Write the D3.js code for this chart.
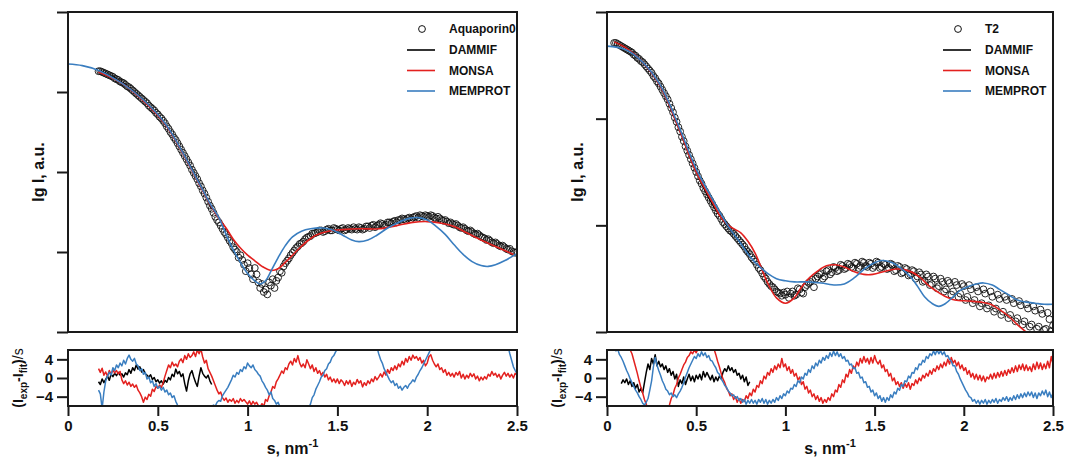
<!DOCTYPE html>
<html>
<head>
<meta charset="utf-8">
<script src="https://cdn.jsdelivr.net/npm/d3@7"></script>
<style>
  body { margin: 0; background: #fff; }
  text { font-family: "Liberation Sans", Arial, Helvetica, sans-serif; font-weight: bold; fill: #111; }
</style>
</head>
<body>
<svg id="chart" width="1070" height="460"></svg>
<script>
// ---- data: s (nm^-1) and lg I (arbitrary units, 1 unit = one major tick) ----
var aqpExp = [[0.17,3.26],[0.18,3.26],[0.19,3.25],[0.20,3.24],[0.21,3.23],[0.22,3.22],[0.23,3.21],[0.24,3.20],[0.25,3.19],[0.26,3.17],
  [0.27,3.16],[0.28,3.15],[0.29,3.13],[0.30,3.12],[0.31,3.11],[0.32,3.09],[0.33,3.07],[0.34,3.06],[0.35,3.04],[0.36,3.02],[0.37,3.00],
  [0.38,2.98],[0.39,2.96],[0.40,2.94],[0.41,2.92],[0.42,2.90],[0.43,2.88],[0.44,2.86],[0.45,2.83],[0.46,2.81],[0.47,2.79],[0.48,2.77],
  [0.49,2.74],[0.50,2.72],[0.51,2.69],[0.52,2.67],[0.53,2.64],[0.54,2.61],[0.55,2.57],[0.56,2.54],[0.57,2.50],[0.58,2.47],[0.59,2.43],
  [0.60,2.40],[0.61,2.36],[0.62,2.32],[0.63,2.28],[0.64,2.24],[0.65,2.20],[0.66,2.16],[0.67,2.12],[0.68,2.08],[0.69,2.03],[0.70,1.99],
  [0.71,1.95],[0.72,1.91],[0.73,1.86],[0.74,1.82],[0.75,1.77],[0.76,1.73],[0.77,1.68],[0.78,1.63],[0.79,1.58],[0.80,1.54],[0.81,1.49],
  [0.82,1.44],[0.83,1.40],[0.84,1.37],[0.85,1.33],[0.86,1.29],[0.87,1.25],[0.88,1.22],[0.89,1.18],[0.90,1.14],[0.91,1.11],[0.92,1.06],
  [0.93,1.03],[0.94,1.00],[0.95,0.93],[0.96,0.96],[0.97,0.90],[0.98,0.84],[0.99,0.76],[1.00,0.86],[1.01,0.80],[1.02,0.72],[1.03,0.66],
  [1.04,0.80],[1.05,0.72],[1.06,0.62],[1.07,0.55],[1.08,0.60],[1.09,0.50],[1.10,0.53],[1.11,0.47],[1.12,0.62],[1.13,0.58],[1.14,0.66],
  [1.15,0.55],[1.16,0.64],[1.17,0.68],[1.18,0.76],[1.19,0.74],[1.20,0.82],[1.21,0.86],[1.22,0.89],[1.23,0.92],[1.24,0.96],[1.25,0.99],
  [1.26,1.02],[1.27,1.05],[1.28,1.07],[1.29,1.10],[1.30,1.11],[1.31,1.13],[1.32,1.16],[1.33,1.18],[1.34,1.19],[1.35,1.20],[1.36,1.23],
  [1.37,1.23],[1.38,1.24],[1.39,1.25],[1.40,1.27],[1.41,1.27],[1.42,1.25],[1.43,1.26],[1.44,1.28],[1.45,1.29],[1.46,1.27],[1.47,1.27],
  [1.48,1.30],[1.49,1.29],[1.50,1.28],[1.51,1.27],[1.52,1.29],[1.53,1.30],[1.54,1.27],[1.55,1.28],[1.56,1.30],[1.57,1.29],[1.58,1.28],
  [1.59,1.31],[1.60,1.29],[1.61,1.28],[1.62,1.31],[1.63,1.30],[1.64,1.28],[1.65,1.29],[1.66,1.32],[1.67,1.32],[1.68,1.30],[1.69,1.33],
  [1.70,1.34],[1.71,1.31],[1.72,1.33],[1.73,1.34],[1.74,1.36],[1.75,1.35],[1.76,1.33],[1.77,1.34],[1.78,1.37],[1.79,1.37],[1.80,1.36],
  [1.81,1.38],[1.82,1.39],[1.83,1.37],[1.84,1.40],[1.85,1.40],[1.86,1.42],[1.87,1.41],[1.88,1.40],[1.89,1.42],[1.90,1.43],[1.91,1.41],
  [1.92,1.43],[1.93,1.44],[1.94,1.45],[1.95,1.43],[1.96,1.46],[1.97,1.45],[1.98,1.44],[1.99,1.46],[2.00,1.45],[2.01,1.44],[2.02,1.46],
  [2.03,1.45],[2.04,1.43],[2.05,1.42],[2.06,1.44],[2.07,1.42],[2.08,1.40],[2.09,1.39],[2.10,1.40],[2.11,1.38],[2.12,1.36],[2.13,1.37],
  [2.14,1.35],[2.15,1.34],[2.16,1.35],[2.17,1.33],[2.18,1.31],[2.19,1.30],[2.20,1.31],[2.21,1.29],[2.22,1.27],[2.23,1.26],[2.24,1.27],
  [2.25,1.25],[2.26,1.23],[2.27,1.22],[2.28,1.23],[2.29,1.21],[2.30,1.19],[2.31,1.18],[2.32,1.17],[2.33,1.15],[2.34,1.16],[2.35,1.14],
  [2.36,1.12],[2.37,1.11],[2.38,1.12],[2.39,1.10],[2.40,1.08],[2.41,1.07],[2.42,1.08],[2.43,1.06],[2.44,1.04],[2.45,1.03],[2.46,1.04],
  [2.47,1.01],[2.48,1.00],[2.49,0.99],[2.50,1.00]];

var aqpDammif = [[0.17,3.27],[0.25,3.19],[0.35,3.04],[0.45,2.83],[0.55,2.57],[0.65,2.20],[0.72,1.91],[0.80,1.54]];

var aqpMonsa = [[0.17,3.25],[0.30,3.11],[0.42,2.89],[0.54,2.60],[0.63,2.27],[0.73,1.85],[0.80,1.56],[0.84,1.42],[0.88,1.30],
  [0.92,1.16],[0.96,1.05],[1.00,0.96],[1.04,0.89],[1.08,0.82],[1.13,0.77],[1.17,0.79],[1.21,0.87],[1.25,0.96],[1.29,1.05],
  [1.34,1.15],[1.38,1.21],[1.45,1.26],[1.53,1.28],[1.63,1.29],[1.73,1.29],[1.83,1.33],[1.92,1.37],[2.00,1.38],[2.08,1.36],
  [2.15,1.32],[2.22,1.24],[2.30,1.15],[2.40,1.05],[2.48,0.97]];

var aqpMemprot = [[0.00,3.35],[0.08,3.33],[0.17,3.27],[0.30,3.11],[0.42,2.90],[0.54,2.61],[0.63,2.28],[0.73,1.86],[0.80,1.57],
  [0.84,1.43],[0.88,1.22],[0.92,1.03],[0.96,0.87],[1.00,0.73],[1.04,0.64],[1.07,0.60],[1.10,0.64],[1.13,0.76],[1.17,0.93],
  [1.21,1.08],[1.25,1.19],[1.30,1.26],[1.35,1.29],[1.42,1.30],[1.48,1.27],[1.53,1.21],[1.58,1.15],[1.62,1.13],[1.67,1.15],
  [1.72,1.21],[1.78,1.30],[1.84,1.37],[1.90,1.42],[1.95,1.43],[2.00,1.40],[2.05,1.32],[2.10,1.22],[2.15,1.09],[2.20,0.97],
  [2.25,0.88],[2.30,0.83],[2.34,0.82],[2.38,0.84],[2.43,0.89],[2.50,0.98]];

var t2Exp = [[0.04,2.71],[0.05,2.71],[0.06,2.70],[0.07,2.69],[0.08,2.68],[0.09,2.67],[0.10,2.66],[0.11,2.65],[0.12,2.64],[0.13,2.63],
  [0.14,2.62],[0.15,2.60],[0.16,2.59],[0.17,2.57],[0.18,2.56],[0.19,2.54],[0.20,2.53],[0.21,2.51],[0.22,2.49],[0.23,2.47],[0.24,2.45],
  [0.25,2.43],[0.26,2.40],[0.27,2.38],[0.28,2.35],[0.29,2.33],[0.30,2.30],[0.31,2.27],[0.32,2.24],[0.33,2.21],[0.34,2.18],[0.35,2.14],
  [0.36,2.10],[0.37,2.06],[0.38,2.01],[0.39,1.97],[0.40,1.92],[0.41,1.88],[0.42,1.83],[0.43,1.79],[0.44,1.74],[0.45,1.70],[0.46,1.66],
  [0.47,1.62],[0.48,1.58],[0.49,1.54],[0.50,1.50],[0.51,1.46],[0.52,1.42],[0.53,1.39],[0.54,1.35],[0.55,1.32],[0.56,1.29],[0.57,1.26],
  [0.58,1.23],[0.59,1.20],[0.60,1.17],[0.61,1.14],[0.62,1.11],[0.63,1.09],[0.64,1.06],[0.65,1.03],[0.66,1.01],[0.67,0.99],[0.68,0.97],
  [0.69,0.95],[0.70,0.94],[0.71,0.92],[0.72,0.90],[0.73,0.88],[0.74,0.86],[0.75,0.84],[0.76,0.82],[0.77,0.80],[0.78,0.77],[0.79,0.75],
  [0.80,0.73],[0.81,0.70],[0.82,0.68],[0.83,0.66],[0.84,0.63],[0.85,0.60],[0.86,0.58],[0.87,0.55],[0.88,0.52],[0.89,0.50],[0.90,0.47],
  [0.91,0.45],[0.92,0.43],[0.93,0.42],[0.94,0.40],[0.95,0.38],[0.96,0.37],[0.97,0.36],[0.98,0.34],[0.99,0.37],[1.00,0.35],[1.01,0.38],
  [1.02,0.32],[1.03,0.36],[1.04,0.38],[1.05,0.34],[1.06,0.35],[1.07,0.41],[1.08,0.40],[1.09,0.37],[1.10,0.36],[1.11,0.42],[1.12,0.44],
  [1.13,0.46],[1.14,0.47],[1.15,0.49],[1.16,0.42],[1.17,0.50],[1.18,0.52],[1.19,0.54],[1.20,0.55],[1.21,0.50],[1.22,0.52],[1.23,0.57],
  [1.24,0.58],[1.25,0.54],[1.26,0.56],[1.27,0.61],[1.28,0.60],[1.29,0.57],[1.30,0.58],[1.31,0.63],[1.32,0.62],[1.33,0.59],[1.34,0.60],
  [1.35,0.64],[1.36,0.63],[1.37,0.61],[1.38,0.60],[1.39,0.65],[1.40,0.64],[1.41,0.60],[1.42,0.62],[1.43,0.66],[1.44,0.65],[1.45,0.62],
  [1.46,0.61],[1.47,0.65],[1.48,0.64],[1.49,0.60],[1.50,0.62],[1.51,0.66],[1.52,0.65],[1.53,0.60],[1.54,0.61],[1.55,0.64],[1.56,0.63],
  [1.57,0.59],[1.58,0.60],[1.59,0.64],[1.60,0.63],[1.61,0.57],[1.62,0.58],[1.63,0.62],[1.64,0.61],[1.65,0.55],[1.66,0.56],[1.67,0.60],
  [1.68,0.59],[1.69,0.53],[1.70,0.54],[1.71,0.58],[1.72,0.57],[1.73,0.50],[1.74,0.52],[1.75,0.56],[1.76,0.54],[1.77,0.47],[1.78,0.48],
  [1.79,0.54],[1.80,0.52],[1.81,0.44],[1.82,0.45],[1.83,0.52],[1.84,0.50],[1.85,0.41],[1.86,0.43],[1.87,0.50],[1.88,0.47],[1.89,0.38],
  [1.90,0.40],[1.91,0.48],[1.92,0.46],[1.93,0.35],[1.94,0.38],[1.95,0.47],[1.96,0.44],[1.97,0.33],[1.98,0.36],[1.99,0.45],[2.00,0.43],
  [2.01,0.30],[2.02,0.33],[2.03,0.44],[2.04,0.40],[2.05,0.27],[2.06,0.30],[2.07,0.42],[2.08,0.38],[2.09,0.24],[2.10,0.27],[2.11,0.40],
  [2.12,0.36],[2.13,0.22],[2.14,0.25],[2.15,0.38],[2.16,0.33],[2.17,0.19],[2.18,0.22],[2.19,0.35],[2.20,0.31],[2.21,0.16],[2.22,0.19],
  [2.23,0.33],[2.24,0.30],[2.25,0.13],[2.26,0.16],[2.27,0.31],[2.28,0.27],[2.29,0.10],[2.30,0.13],[2.31,0.29],[2.32,0.25],[2.33,0.07],
  [2.34,0.10],[2.35,0.26],[2.36,0.22],[2.37,0.05],[2.38,0.07],[2.39,0.24],[2.40,0.20],[2.41,0.03],[2.42,0.05],[2.43,0.21],[2.44,0.17],
  [2.45,0.02],[2.46,0.03],[2.47,0.18],[2.48,0.12],[2.49,0.01],[2.50,0.06]];

var t2Dammif = [[0.04,2.72],[0.10,2.67],[0.20,2.53],[0.30,2.30],[0.40,1.92],[0.50,1.50],[0.60,1.17],[0.70,0.94],[0.80,0.73]];

var t2Monsa = [[0.04,2.72],[0.10,2.67],[0.20,2.53],[0.30,2.30],[0.40,1.92],[0.50,1.50],[0.60,1.19],[0.64,1.07],[0.68,1.00],
  [0.72,0.96],[0.75,0.93],[0.79,0.85],[0.83,0.74],[0.87,0.58],[0.90,0.46],[0.95,0.32],[1.00,0.27],[1.05,0.32],[1.09,0.42],
  [1.13,0.50],[1.18,0.57],[1.23,0.62],[1.28,0.63],[1.33,0.61],[1.38,0.57],[1.44,0.54],[1.49,0.54],[1.56,0.57],[1.62,0.59],
  [1.68,0.58],[1.75,0.52],[1.80,0.44],[1.85,0.38],[1.90,0.33],[1.95,0.30],[2.03,0.29],[2.10,0.28],[2.15,0.26],[2.20,0.21],
  [2.25,0.15],[2.30,0.07],[2.35,0.00],[2.38,-0.04]];

var t2Memprot = [[0.00,2.68],[0.10,2.65],[0.20,2.53],[0.30,2.31],[0.40,1.94],[0.50,1.53],[0.60,1.22],[0.68,0.99],[0.75,0.83],
  [0.80,0.71],[0.85,0.62],[0.90,0.55],[0.95,0.50],[1.00,0.48],[1.05,0.47],[1.12,0.47],[1.20,0.46],[1.28,0.44],[1.33,0.45],
  [1.38,0.50],[1.45,0.60],[1.50,0.65],[1.54,0.67],[1.58,0.66],[1.62,0.63],[1.66,0.58],[1.70,0.52],[1.74,0.43],[1.78,0.33],
  [1.82,0.27],[1.86,0.24],[1.90,0.27],[1.94,0.33],[1.98,0.39],[2.03,0.43],[2.07,0.45],[2.11,0.46],[2.16,0.44],[2.20,0.40],
  [2.25,0.35],[2.30,0.30],[2.35,0.28],[2.40,0.27],[2.45,0.26],[2.50,0.26]];

// residuals (I_exp - I_fit)/s
var aqpResDammif = [[0.17,-0.8],[0.18,-1.4],[0.19,-0.2],[0.20,-1.0],[0.21,-0.3],[0.22,0.4],[0.23,-0.5],[0.24,0.8],[0.25,0.3],[0.26,1.0],
  [0.27,0.5],[0.28,1.2],[0.29,0.6],[0.30,0.9],[0.31,0.2],[0.32,1.1],[0.33,0.7],[0.34,1.8],[0.35,1.0],[0.36,2.2],[0.37,1.6],[0.38,2.8],
  [0.39,1.9],[0.40,2.4],[0.41,1.3],[0.42,1.8],[0.43,0.9],[0.44,0.6],[0.45,0.2],[0.46,0.7],[0.47,-0.3],[0.48,0.1],[0.49,-0.8],[0.50,-0.4],
  [0.51,-1.1],[0.52,-0.6],[0.53,-1.3],[0.54,-0.5],[0.55,-0.9],[0.56,0.1],[0.57,-0.4],[0.58,0.8],[0.59,0.3],[0.60,1.9],[0.61,0.9],[0.62,1.4],
  [0.63,0.3],[0.64,0.9],[0.65,-1.2],[0.66,-2.8],[0.67,-0.6],[0.68,0.9],[0.69,1.6],[0.70,0.2],[0.71,-0.9],[0.72,-1.8],[0.73,0.4],[0.74,2.2],
  [0.75,1.0],[0.76,0.4],[0.77,0.0],[0.78,0.6],[0.79,-0.6],[0.80,-1.4]];

var aqpResMonsa = [[0.17,2.0],[0.18,1.2],[0.19,2.1],[0.20,0.6],[0.21,1.3],[0.22,0.4],[0.23,1.6],[0.24,0.8],[0.25,1.7],[0.26,1.1],[0.27,1.6],
  [0.28,0.9],[0.29,1.4],[0.30,-0.4],[0.31,-1.2],[0.32,-0.6],[0.33,-1.5],[0.34,-0.9],[0.35,-1.8],[0.36,-1.3],[0.37,-2.0],[0.38,-1.5],[0.39,-2.6],
  [0.40,-3.2],[0.41,-4.0],[0.42,-5.2],[0.43,-4.1],[0.44,-4.6],[0.45,-3.5],[0.46,-3.9],[0.47,-2.4],[0.48,-2.9],[0.49,-1.8],[0.50,-2.2],
  [0.51,-1.5],[0.52,-2.0],[0.53,-1.0],[0.54,0.4],[0.55,1.6],[0.56,2.8],[0.57,2.2],[0.58,3.4],[0.59,2.6],[0.60,3.0],[0.61,2.4],[0.62,3.6],
  [0.63,4.1],[0.64,3.3],[0.65,4.8],[0.66,4.0],[0.67,5.2],[0.68,4.4],[0.69,4.8],[0.70,5.6],[0.71,4.6],[0.72,6.0],[0.73,5.2],[0.74,6.2],
  [0.75,4.5],[0.76,3.2],[0.77,3.8],[0.78,2.0],[0.79,1.2],[0.80,0.4],[0.81,-0.6],[0.82,-1.6],[0.83,-2.6],[0.84,-3.4],[0.85,-3.0],[0.86,-4.2],
  [0.87,-4.8],[0.88,-4.3],[0.89,-5.2],[0.90,-4.6],[0.91,-5.0],[0.92,-4.4],[0.93,-5.4],[0.94,-4.8],[0.95,-5.3],[0.96,-4.4],[0.97,-5.0],
  [0.98,-4.6],[1.00,-5.6],[1.01,-4.9],[1.02,-5.8],[1.03,-5.0],[1.04,-5.6],[1.05,-5.2],[1.06,-5.9],[1.07,-6.2],[1.08,-5.5],[1.09,-6.1],
  [1.10,-4.6],[1.11,-5.0],[1.12,-3.8],[1.13,-3.0],[1.14,-1.8],[1.15,-2.2],[1.16,-0.8],[1.17,-0.2],[1.18,0.6],[1.19,1.5],[1.20,1.0],
  [1.21,2.2],[1.22,1.8],[1.23,3.0],[1.24,3.6],[1.25,2.8],[1.26,4.2],[1.27,3.4],[1.28,4.8],[1.29,3.2],[1.30,2.4],[1.31,3.0],[1.32,2.2],
  [1.33,3.9],[1.34,3.0],[1.35,2.0],[1.36,2.8],[1.37,1.4],[1.38,2.2],[1.39,1.0],[1.40,1.6],[1.41,0.6],[1.42,1.2],[1.43,0.2],[1.44,0.8],
  [1.45,-0.4],[1.46,0.2],[1.47,-0.8],[1.48,-0.2],[1.49,-1.0],[1.50,-0.2],[1.51,-1.2],[1.52,-0.4],[1.53,-0.8],[1.54,-1.6],[1.55,-0.6],
  [1.56,-1.3],[1.57,-0.5],[1.58,-1.8],[1.59,-0.9],[1.60,-1.4],[1.61,-0.3],[1.62,-1.1],[1.63,-0.6],[1.64,-1.9],[1.65,-1.0],[1.66,-1.6],
  [1.67,-0.6],[1.68,-1.2],[1.69,-0.2],[1.70,-0.8],[1.71,0.3],[1.72,-0.4],[1.73,0.2],[1.74,0.9],[1.75,0.2],[1.76,1.3],[1.77,0.6],[1.78,1.8],
  [1.79,1.0],[1.80,2.2],[1.81,1.6],[1.82,2.6],[1.83,1.8],[1.84,3.0],[1.85,2.4],[1.86,3.6],[1.87,2.8],[1.88,4.2],[1.89,3.4],[1.90,4.6],
  [1.91,3.8],[1.92,4.9],[1.93,4.2],[1.94,4.6],[1.95,3.8],[1.96,4.4],[1.97,3.2],[1.98,3.8],[1.99,2.6],[2.00,3.2],[2.01,4.6],[2.02,5.0],
  [2.03,3.8],[2.04,3.0],[2.05,2.4],[2.06,3.0],[2.07,1.8],[2.08,2.2],[2.09,1.2],[2.10,1.8],[2.11,0.6],[2.12,1.2],[2.13,0.4],[2.14,1.0],
  [2.15,0.2],[2.16,1.2],[2.17,0.6],[2.18,1.4],[2.19,0.0],[2.20,0.8],[2.21,-0.2],[2.22,0.6],[2.23,0.0],[2.24,1.0],[2.25,0.3],[2.26,0.9],
  [2.27,-0.2],[2.28,0.4],[2.29,-0.6],[2.30,0.2],[2.31,-0.4],[2.32,0.3],[2.33,-0.2],[2.34,0.8],[2.35,0.4],[2.36,1.4],[2.37,0.6],[2.38,1.0],
  [2.39,0.2],[2.40,0.8],[2.41,-0.2],[2.42,0.6],[2.43,1.2],[2.44,0.4],[2.45,1.0],[2.46,0.2],[2.47,0.8],[2.48,0.0],[2.49,1.0],[2.50,0.6]];

var aqpResMemprot = [[0.17,-2.6],[0.18,-3.4],[0.19,-6.5],[0.20,-3.0],[0.21,-0.6],[0.22,0.4],[0.23,1.2],[0.24,0.6],[0.25,2.2],[0.26,1.6],
  [0.27,2.8],[0.28,2.2],[0.29,3.2],[0.30,2.6],[0.31,3.8],[0.32,3.0],[0.33,4.2],[0.34,4.9],[0.35,4.0],[0.36,3.6],[0.37,4.2],[0.38,3.0],
  [0.39,2.6],[0.40,1.6],[0.41,2.0],[0.42,0.8],[0.43,1.2],[0.44,-0.2],[0.45,0.2],[0.46,-1.0],[0.47,-0.6],[0.48,-1.8],[0.49,-1.2],[0.50,-2.2],
  [0.51,-1.8],[0.52,-2.6],[0.53,-2.0],[0.54,-3.0],[0.55,-2.6],[0.56,-3.6],[0.57,-3.2],[0.58,-4.2],[0.59,-3.8],[0.60,-5.0],[0.61,-5.8],
  [0.62,-6.5],[0.66,-7.5],[0.70,-8.0],[0.75,-7.5],[0.79,-6.8],[0.80,-6.2],[0.81,-5.8],[0.82,-6.0],[0.83,-5.2],[0.84,-4.8],[0.85,-5.0],
  [0.86,-3.8],[0.87,-3.2],[0.88,-2.6],[0.89,-2.0],[0.90,-1.2],[0.91,-0.4],[0.92,0.6],[0.93,0.2],[0.94,1.2],[0.95,0.8],[0.96,1.8],[0.97,1.4],
  [0.98,2.4],[0.99,2.0],[1.00,3.2],[1.01,2.6],[1.02,2.2],[1.03,2.8],[1.04,1.8],[1.05,1.4],[1.06,0.8],[1.07,0.4],[1.08,-0.6],[1.09,-1.2],
  [1.10,-2.0],[1.11,-2.6],[1.12,-3.6],[1.13,-3.0],[1.14,-4.4],[1.15,-4.8],[1.16,-5.6],[1.17,-5.2],[1.18,-6.2],[1.20,-7.5],[1.28,-8.0],
  [1.32,-7.5],[1.34,-6.4],[1.35,-5.6],[1.36,-4.2],[1.37,-3.6],[1.38,-2.4],[1.39,-1.6],[1.40,-0.8],[1.41,0.2],[1.42,0.6],[1.43,1.6],
  [1.44,2.0],[1.45,3.0],[1.46,3.4],[1.47,4.4],[1.48,4.8],[1.49,5.6],[1.50,6.2],[1.52,7.5],[1.60,8.5],[1.70,8.0],[1.72,6.6],[1.73,5.2],
  [1.74,4.0],[1.75,3.2],[1.76,2.0],[1.77,1.2],[1.78,0.4],[1.79,-0.4],[1.80,-1.0],[1.81,-0.6],[1.82,-1.6],[1.83,-1.2],[1.84,-2.2],
  [1.85,-1.8],[1.86,-2.6],[1.87,-2.0],[1.88,-1.6],[1.89,-2.2],[1.90,-1.4],[1.91,-1.0],[1.92,-0.4],[1.93,-0.8],[1.94,0.2],[1.95,0.8],
  [1.96,1.6],[1.97,2.2],[1.98,3.0],[1.99,3.8],[2.00,4.6],[2.01,5.4],[2.02,6.2],[2.04,7.5],[2.20,8.5],[2.40,8.0],[2.45,6.8],[2.46,5.2],
  [2.47,3.8],[2.48,2.4],[2.49,1.6],[2.50,1.0]];

var t2ResDammif = [[0.08,-1.2],[0.09,-0.4],[0.10,-1.0],[0.11,-0.2],[0.12,-1.4],[0.13,-0.6],[0.14,-1.8],[0.15,-1.0],[0.16,-2.2],[0.17,-1.4],
  [0.18,-3.0],[0.19,-2.2],[0.20,-3.2],[0.21,-1.0],[0.22,1.2],[0.23,3.0],[0.24,1.8],[0.25,4.2],[0.26,3.0],[0.27,5.0],[0.28,2.6],[0.29,3.6],
  [0.30,2.4],[0.31,3.0],[0.32,1.8],[0.33,2.6],[0.34,1.2],[0.35,2.0],[0.36,0.6],[0.37,1.4],[0.38,-0.2],[0.39,0.8],[0.40,-1.8],[0.41,-0.4],
  [0.42,-1.2],[0.43,0.2],[0.44,-1.4],[0.45,-0.2],[0.46,0.8],[0.47,-0.6],[0.48,0.4],[0.49,-0.8],[0.50,0.6],[0.51,-0.2],[0.52,0.8],[0.53,-0.4],
  [0.54,1.4],[0.55,0.2],[0.56,1.2],[0.57,0.4],[0.58,-0.4],[0.59,0.6],[0.60,-0.8],[0.61,0.2],[0.62,-0.6],[0.63,0.4],[0.64,-0.2],[0.65,1.2],
  [0.66,2.0],[0.67,1.4],[0.68,2.6],[0.69,1.6],[0.70,2.2],[0.71,1.2],[0.72,1.8],[0.73,0.6],[0.74,1.0],[0.75,-0.2],[0.76,0.6],[0.77,-0.8],
  [0.78,0.2],[0.79,-1.6],[0.80,-0.8]];

var t2ResMonsa = [[0.12,7.0],[0.13,6.0],[0.14,5.2],[0.15,3.8],[0.16,2.4],[0.17,1.0],[0.18,-0.6],[0.19,-2.0],[0.20,-3.2],[0.21,-4.6],
  [0.22,-5.6],[0.23,-6.8],[0.26,-8.0],[0.32,-8.0],[0.34,-6.8],[0.35,-5.8],[0.36,-4.4],[0.37,-3.6],[0.38,-2.2],[0.39,-1.4],[0.40,0.0],
  [0.41,0.8],[0.42,1.8],[0.43,2.8],[0.44,3.4],[0.45,4.4],[0.46,4.8],[0.47,5.6],[0.48,5.2],[0.49,6.0],[0.50,5.4],[0.51,6.2],[0.53,7.0],
  [0.58,7.0],[0.60,6.2],[0.61,5.0],[0.62,3.6],[0.63,2.4],[0.64,1.0],[0.65,-0.2],[0.66,-1.0],[0.67,-2.2],[0.68,-2.8],[0.69,-3.8],[0.70,-3.4],
  [0.71,-4.6],[0.72,-4.0],[0.73,-5.2],[0.74,-4.4],[0.75,-5.4],[0.76,-4.6],[0.77,-5.0],[0.78,-3.8],[0.79,-4.4],[0.80,-3.2],[0.81,-3.8],
  [0.82,-2.4],[0.83,-3.0],[0.84,-1.6],[0.85,-2.0],[0.86,-0.6],[0.87,-1.2],[0.88,0.4],[0.89,-0.2],[0.90,1.2],[0.91,0.6],[0.92,2.0],[0.93,1.2],
  [0.94,2.6],[0.95,1.8],[0.96,3.0],[0.97,2.2],[0.98,4.2],[0.99,2.4],[1.00,3.0],[1.01,1.6],[1.02,2.4],[1.03,1.0],[1.04,1.8],[1.05,0.4],
  [1.06,1.0],[1.07,-0.4],[1.08,0.2],[1.09,-1.4],[1.10,-0.8],[1.11,-2.4],[1.12,-1.8],[1.13,-3.2],[1.14,-2.6],[1.15,-4.0],[1.16,-3.4],
  [1.17,-4.6],[1.18,-3.8],[1.19,-5.0],[1.20,-4.2],[1.21,-5.4],[1.22,-4.6],[1.23,-5.2],[1.24,-4.2],[1.25,-4.8],[1.26,-3.4],[1.27,-4.0],
  [1.28,-2.6],[1.29,-3.0],[1.30,-1.4],[1.31,-2.0],[1.32,-0.4],[1.33,-1.0],[1.34,0.8],[1.35,0.2],[1.36,1.8],[1.37,1.0],[1.38,2.6],[1.39,2.0],
  [1.40,3.4],[1.41,2.6],[1.42,4.2],[1.43,3.2],[1.44,4.6],[1.45,3.4],[1.46,4.2],[1.47,3.0],[1.48,4.4],[1.49,3.2],[1.50,4.8],[1.51,3.6],
  [1.52,3.0],[1.53,3.8],[1.54,2.2],[1.55,2.8],[1.56,1.4],[1.57,1.8],[1.58,0.4],[1.59,1.0],[1.60,-0.6],[1.61,0.0],[1.62,-1.4],[1.63,-0.8],
  [1.64,-1.8],[1.65,-1.0],[1.66,-2.2],[1.67,-1.2],[1.68,-2.0],[1.69,-1.0],[1.70,-2.4],[1.71,-1.2],[1.72,-1.6],[1.73,-0.4],[1.74,-1.2],
  [1.75,0.0],[1.76,-0.6],[1.77,0.6],[1.78,0.0],[1.79,1.0],[1.80,0.4],[1.81,1.6],[1.82,0.8],[1.83,2.0],[1.84,1.4],[1.85,2.6],[1.86,1.8],
  [1.87,3.0],[1.88,2.2],[1.89,3.4],[1.90,2.6],[1.91,4.0],[1.92,3.0],[1.93,4.4],[1.94,3.2],[1.95,3.8],[1.96,2.6],[1.97,3.4],[1.98,2.0],
  [1.99,2.8],[2.00,1.6],[2.01,2.2],[2.02,0.8],[2.03,1.6],[2.04,0.2],[2.05,1.0],[2.06,-0.2],[2.07,0.8],[2.08,-0.4],[2.09,0.6],[2.10,-0.6],
  [2.11,0.4],[2.12,-0.8],[2.13,0.2],[2.14,-0.2],[2.15,0.8],[2.16,-0.2],[2.17,1.0],[2.18,0.0],[2.19,1.2],[2.20,0.2],[2.21,1.4],[2.22,0.4],
  [2.23,1.6],[2.24,0.6],[2.25,1.8],[2.26,1.0],[2.27,2.2],[2.28,1.2],[2.29,2.6],[2.30,1.4],[2.31,2.8],[2.32,1.8],[2.33,3.0],[2.34,1.6],
  [2.35,2.8],[2.36,1.6],[2.37,2.4],[2.38,1.4],[2.39,3.0],[2.40,1.8],[2.41,3.4],[2.42,2.0],[2.43,3.2],[2.44,1.8],[2.45,3.0],[2.46,2.0],
  [2.47,3.6],[2.48,2.2],[2.49,4.6],[2.50,3.0]];

var t2ResMemprot = [[0.04,6.4],[0.05,5.8],[0.06,6.2],[0.07,5.0],[0.08,4.4],[0.09,3.6],[0.10,2.6],[0.11,1.6],[0.12,0.8],[0.13,-0.2],
  [0.14,-1.0],[0.15,-1.8],[0.16,-2.6],[0.17,-3.2],[0.18,-4.0],[0.19,-4.6],[0.20,-5.4],[0.21,-5.8],[0.22,-5.2],[0.23,-4.4],[0.24,-2.6],
  [0.25,-0.6],[0.26,2.4],[0.27,4.4],[0.28,2.8],[0.29,1.6],[0.30,0.6],[0.31,-0.6],[0.32,-1.4],[0.33,-2.4],[0.34,-2.8],[0.35,-3.6],[0.36,-3.2],
  [0.37,-4.0],[0.38,-3.6],[0.39,-4.2],[0.40,-3.4],[0.41,-2.8],[0.42,-2.0],[0.43,-1.0],[0.44,0.2],[0.45,1.2],[0.46,2.2],[0.47,3.0],[0.48,3.8],
  [0.49,4.6],[0.50,4.2],[0.51,5.2],[0.52,4.6],[0.53,5.6],[0.54,4.8],[0.55,5.4],[0.56,4.4],[0.57,4.8],[0.58,3.8],[0.59,3.6],[0.60,2.8],
  [0.61,2.2],[0.62,1.2],[0.63,0.8],[0.64,-0.2],[0.65,-0.8],[0.66,-1.6],[0.67,-2.0],[0.68,-2.8],[0.69,-3.2],[0.70,-3.8],[0.71,-3.6],[0.72,-4.4],
  [0.73,-4.0],[0.74,-4.8],[0.75,-4.4],[0.76,-5.2],[0.77,-4.6],[0.78,-5.6],[0.79,-4.8],[0.80,-5.4],[0.81,-4.6],[0.82,-5.4],[0.83,-4.8],
  [0.84,-5.6],[0.85,-4.6],[0.86,-5.2],[0.87,-4.4],[0.88,-5.4],[0.89,-4.6],[0.90,-5.6],[0.91,-4.8],[0.92,-5.4],[0.93,-4.6],[0.94,-5.2],
  [0.95,-4.2],[0.96,-4.8],[0.97,-3.8],[0.98,-4.4],[0.99,-3.4],[1.00,-3.8],[1.01,-2.8],[1.02,-3.2],[1.03,-2.2],[1.04,-2.4],[1.05,-1.4],
  [1.06,-1.8],[1.07,-0.6],[1.08,-1.0],[1.09,0.2],[1.10,-0.2],[1.11,1.0],[1.12,0.6],[1.13,1.8],[1.14,1.2],[1.15,2.6],[1.16,2.0],[1.17,3.2],
  [1.18,2.6],[1.19,3.8],[1.20,3.2],[1.21,4.4],[1.22,3.8],[1.23,4.8],[1.24,4.2],[1.25,5.4],[1.26,4.6],[1.27,5.8],[1.28,4.8],[1.29,5.6],
  [1.30,4.6],[1.31,5.2],[1.32,4.2],[1.33,4.6],[1.34,3.6],[1.35,3.8],[1.36,2.8],[1.37,3.0],[1.38,2.0],[1.39,2.2],[1.40,1.0],[1.41,1.2],
  [1.42,0.0],[1.43,0.2],[1.44,-1.0],[1.45,-0.8],[1.46,-2.0],[1.47,-1.8],[1.48,-3.0],[1.49,-2.6],[1.50,-3.8],[1.51,-3.2],[1.52,-4.4],
  [1.53,-3.8],[1.54,-5.0],[1.55,-4.2],[1.56,-5.2],[1.57,-4.2],[1.58,-4.8],[1.59,-3.6],[1.60,-4.2],[1.61,-3.0],[1.62,-3.4],[1.63,-2.2],
  [1.64,-2.6],[1.65,-1.4],[1.66,-1.8],[1.67,-0.6],[1.68,-0.8],[1.69,0.4],[1.70,0.0],[1.71,1.2],[1.72,1.0],[1.73,2.2],[1.74,1.8],[1.75,3.0],
  [1.76,2.8],[1.77,3.8],[1.78,3.4],[1.79,4.6],[1.80,4.2],[1.81,5.2],[1.82,4.8],[1.83,5.8],[1.84,5.0],[1.85,6.0],[1.86,5.2],[1.87,5.8],
  [1.88,5.0],[1.89,5.6],[1.90,4.6],[1.91,4.8],[1.92,4.0],[1.93,3.6],[1.94,2.6],[1.95,2.6],[1.96,1.4],[1.97,0.8],[1.98,-0.2],[1.99,-1.0],
  [2.00,-1.8],[2.01,-2.6],[2.02,-3.2],[2.03,-4.0],[2.04,-4.2],[2.05,-5.0],[2.06,-4.6],[2.07,-5.4],[2.08,-4.8],[2.09,-5.6],[2.10,-4.8],
  [2.11,-5.4],[2.12,-4.6],[2.13,-5.6],[2.14,-4.8],[2.15,-5.4],[2.16,-4.6],[2.17,-5.2],[2.18,-4.4],[2.19,-5.4],[2.20,-4.6],[2.21,-5.0],
  [2.22,-4.2],[2.23,-4.8],[2.24,-4.0],[2.25,-5.0],[2.26,-4.2],[2.27,-4.8],[2.28,-3.8],[2.29,-4.6],[2.30,-3.6],[2.31,-4.4],[2.32,-3.4],
  [2.33,-4.2],[2.34,-3.2],[2.35,-4.0],[2.36,-3.0],[2.37,-3.8],[2.38,-3.0],[2.39,-4.2],[2.40,-3.2],[2.41,-4.4],[2.42,-3.2],[2.43,-3.8],
  [2.44,-2.8],[2.45,-3.6],[2.46,-2.6],[2.47,-4.0],[2.48,-3.0],[2.49,-4.2],[2.50,-3.2]];

var sTicks = [0, 0.5, 1, 1.5, 2, 2.5];
var resTicks = [-4, 0, 4];
var fitNames = ['DAMMIF', 'MONSA', 'MEMPROT'];
var fitColors = ['#000000', '#e3211f', '#3a7ec0'];

var svg = d3.select('#chart');

function drawPanel(id, left, right, sample, yTop, yTicks, exp, fits, residuals) {
    var top = 12, bottom = 332, rTop = 350, rBottom = 406;
    var g = svg.append('g');

    var x = d3.scaleLinear().domain([0, 2.5]).range([left, right]);
    var y = d3.scaleLinear().domain([0, yTop]).range([bottom, top]);
    var yr = d3.scaleLinear().domain([-6, 6]).range([rBottom, rTop]);

    // clip areas
    var defs = g.append('defs');
    defs.append('clipPath').attr('id', 'main' + id).append('rect')
        .attr('x', left).attr('y', top).attr('width', right - left).attr('height', bottom - top);
    defs.append('clipPath').attr('id', 'res' + id).append('rect')
        .attr('x', left).attr('y', rTop).attr('width', right - left).attr('height', rBottom - rTop);

    var line = d3.line()
        .x(function (d) { return x(d[0]); })
        .y(function (d) { return y(d[1]); })
        .curve(d3.curveCatmullRom.alpha(0.5));

    var rline = d3.line()
        .x(function (d) { return x(d[0]); })
        .y(function (d) { return yr(d[1]); });

    // experimental points
    var plot = g.append('g').attr('clip-path', 'url(#main' + id + ')');
    plot.selectAll('circle')
        .data(exp).enter()
        .append('circle')
        .attr('cx', function (d) { return x(d[0]); })
        .attr('cy', function (d) { return y(d[1]); })
        .attr('r', 3.4)
        .attr('fill', 'none')
        .attr('stroke', '#111')
        .attr('stroke-width', 0.9);

    fits.forEach(function (f, i) {
        plot.append('path')
            .datum(f)
            .attr('d', line)
            .attr('fill', 'none')
            .attr('stroke', fitColors[i])
            .attr('stroke-width', 1.6);
    });

    // residuals
    var rplot = g.append('g').attr('clip-path', 'url(#res' + id + ')');
    residuals.forEach(function (r, i) {
        rplot.append('path')
            .datum(r)
            .attr('d', rline)
            .attr('fill', 'none')
            .attr('stroke', fitColors[i])
            .attr('stroke-width', 1.5)
            .attr('stroke-linejoin', 'round');
    });

    // frames
    [[top, bottom], [rTop, rBottom]].forEach(function (b) {
        g.append('rect')
            .attr('x', left).attr('y', b[0])
            .attr('width', right - left).attr('height', b[1] - b[0])
            .attr('fill', 'none').attr('stroke', '#1a1a1a').attr('stroke-width', 2);
    });

    // axes
    var yAxis = g.append('g')
        .attr('transform', 'translate(' + left + ',0)')
        .call(d3.axisLeft(y).tickValues(yTicks).tickSize(11).tickFormat(''));
    var rAxis = g.append('g')
        .attr('transform', 'translate(' + left + ',0)')
        .call(d3.axisLeft(yr).tickValues(resTicks).tickSize(11).tickPadding(4).tickFormat(d3.format('d')));
    var xAxis = g.append('g')
        .attr('transform', 'translate(0,' + rBottom + ')')
        .call(d3.axisBottom(x).tickValues(sTicks).tickSize(10).tickPadding(4).tickFormat(d3.format('')));

    [yAxis, rAxis, xAxis].forEach(function (a) {
        a.select('.domain').remove();
        a.selectAll('.tick line').attr('stroke', '#1a1a1a').attr('stroke-width', 2);
        a.selectAll('.tick text')
            .attr('fill', '#111')
            .style('font-family', '"Liberation Sans", Arial, sans-serif')
            .style('font-weight', 'bold')
            .style('font-size', '15px');
    });

    // axis titles
    g.append('text')
        .attr('transform', 'translate(' + (left - 24) + ',' + ((top + bottom) / 2) + ') rotate(-90)')
        .attr('text-anchor', 'middle')
        .style('font-size', '16px')
        .text('lg I, a.u.');

    var rt = g.append('text')
        .attr('transform', 'translate(' + (left - 45) + ',' + ((rTop + rBottom) / 2) + ') rotate(-90)')
        .attr('text-anchor', 'middle')
        .style('font-size', '14px');
    rt.append('tspan').text('(I');
    rt.append('tspan').attr('dy', 4).style('font-size', '10px').text('exp');
    rt.append('tspan').attr('dy', -4).text('-I');
    rt.append('tspan').attr('dy', 4).style('font-size', '10px').text('fit');
    rt.append('tspan').attr('dy', -4).text(')');
    rt.append('tspan').style('font-weight', 'normal').text('/s');

    var xt = g.append('text')
        .attr('x', (left + right) / 2).attr('y', 454)
        .attr('text-anchor', 'middle')
        .style('font-size', '16px');
    xt.append('tspan').text('s, nm');
    xt.append('tspan').attr('dy', -7).style('font-size', '11px').text('-1');

    // legend
    var lx = right - 110, ly = 29;
    var leg = g.append('g');
    leg.append('circle').attr('cx', lx + 15).attr('cy', ly).attr('r', 3.4)
        .attr('fill', 'none').attr('stroke', '#111').attr('stroke-width', 1);
    leg.append('text').attr('x', lx + 42).attr('y', ly).attr('dy', '0.35em')
        .style('font-size', '12px').text(sample);
    fitNames.forEach(function (n, i) {
        var yy = ly + 21 + i * 20.5;
        leg.append('line').attr('x1', lx).attr('x2', lx + 28).attr('y1', yy).attr('y2', yy)
            .attr('stroke', fitColors[i]).attr('stroke-width', 1.6);
        leg.append('text').attr('x', lx + 42).attr('y', yy).attr('dy', '0.35em')
            .style('font-size', '12px').text(n);
    });
}

drawPanel('a', 68, 517, 'Aquaporin0', 4, [0, 1, 2, 3, 4], aqpExp,
    [aqpDammif, aqpMonsa, aqpMemprot], [aqpResDammif, aqpResMonsa, aqpResMemprot]);
drawPanel('b', 607, 1053, 'T2', 3, [0, 1, 2, 3], t2Exp,
    [t2Dammif, t2Monsa, t2Memprot], [t2ResDammif, t2ResMonsa, t2ResMemprot]);
</script>
</body>
</html>
